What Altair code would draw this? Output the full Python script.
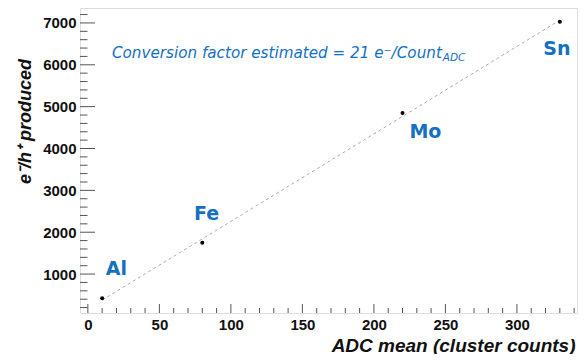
import altair as alt
import pandas as pd

# ---- data ----
elements = ["Al", "Fe", "Mo", "Sn"]
adc_mean = [10, 80, 220, 330]
eh_produced = [420, 1750, 4850, 7030]

# label anchor positions (data units)
label_x = [20, 83, 236, 328]
label_y = [1120, 2430, 4405, 6380]

x_major = [0, 50, 100, 150, 200, 250, 300]
x_minor = [v for v in range(0, 341, 10) if v % 50 != 0]
y_major = [1000, 2000, 3000, 4000, 5000, 6000, 7000]
y_minor = [v for v in range(200, 7201, 200) if v % 1000 != 0]

note_main = "Conversion factor estimated = 21 e\u207b/Count"
note_sub = "ADC"
note_x = [247.5]
note_y = [6286]

x_domain = [-5.5, 342]
y_domain = [70, 7357]

BLUE = "#1570c2"
TICK = "#555555"
W, H = 497, 305

pts = pd.DataFrame({"element": elements, "adc": adc_mean, "eh": eh_produced})
labs = pd.DataFrame({"element": elements, "adc": label_x, "eh": label_y})
xmaj = pd.DataFrame({"adc": x_major})
xmin = pd.DataFrame({"adc": x_minor})
ymaj = pd.DataFrame({"eh": y_major})
ymin = pd.DataFrame({"eh": y_minor})
note = pd.DataFrame({"adc": note_x, "eh": note_y, "main": [note_main], "sub": [note_sub]})

xs = alt.Scale(domain=x_domain, nice=False, zero=False)
ys = alt.Scale(domain=y_domain, nice=False, zero=False)

x_axis = alt.Axis(
    values=x_major, format="d", title="ADC mean (cluster counts)", ticks=False, domain=False, grid=False,
    labelFont="Liberation Sans", labelFontWeight="bold", labelFontSize=15, labelColor="#111111",
    labelPadding=4, titleFont="Liberation Sans", titleFontWeight="bold", titleFontStyle="italic",
    titleFontSize=19, titleColor="#111111", titleAnchor="end", titleAlign="right",
    titleX=495, titleY=38, titleBaseline="alphabetic",
)
y_axis = alt.Axis(
    values=y_major, format="d", title="e\u207b/h\u207a produced", ticks=False, domain=False, grid=False,
    labelFont="Liberation Sans", labelFontWeight="bold", labelFontSize=15, labelColor="#111111",
    labelPadding=4, titleFont="Liberation Sans", titleFontWeight="bold", titleFontStyle="italic",
    titleFontSize=18, titleColor="#111111", titleAngle=270, titleAlign="center",
    titleBaseline="middle", titleX=-55, titleY=113,
)

fit = alt.Chart(pts).transform_regression(
    "adc", "eh", extent=[10, 330]
).mark_line(color="#ababab", strokeDash=[3, 3], strokeWidth=1).encode(
    x=alt.X("adc:Q", scale=xs, axis=x_axis),
    y=alt.Y("eh:Q", scale=ys, axis=y_axis),
)

dots = alt.Chart(pts).mark_circle(color="black", size=16, opacity=1).encode(
    x=alt.X("adc:Q", scale=xs), y=alt.Y("eh:Q", scale=ys)
)

labels = alt.Chart(labs).mark_text(
    font="DejaVu Sans", fontWeight="bold", fontSize=19, color=BLUE, align="center", baseline="middle"
).encode(x=alt.X("adc:Q", scale=xs), y=alt.Y("eh:Q", scale=ys), text="element:N")

note_a = alt.Chart(note).mark_text(
    font="DejaVu Sans", fontStyle="italic", fontSize=15.2, color=BLUE, align="right", baseline="middle"
).encode(x=alt.X("adc:Q", scale=xs), y=alt.Y("eh:Q", scale=ys), text="main:N")
note_b = alt.Chart(note).mark_text(
    font="DejaVu Sans", fontStyle="italic", fontSize=10.5, color=BLUE, align="left", baseline="middle",
    dx=1, dy=5,
).encode(x=alt.X("adc:Q", scale=xs), y=alt.Y("eh:Q", scale=ys), text="sub:N")

def xticks(df, length):
    return alt.Chart(df).mark_rule(color=TICK, strokeWidth=1).encode(
        x=alt.X("adc:Q", scale=xs), y=alt.value(H), y2=alt.value(H - length)
    )

def yticks(df, length):
    return alt.Chart(df).mark_rule(color=TICK, strokeWidth=1).encode(
        y=alt.Y("eh:Q", scale=ys), x=alt.value(0), x2=alt.value(length)
    )

chart = alt.layer(
    fit, xticks(xmaj, 9), xticks(xmin, 5), yticks(ymaj, 15), yticks(ymin, 7.5),
    dots, labels, note_a, note_b,
).properties(
    width=W, height=H,
    autosize=alt.AutoSizeParams(type="none"),
    padding={"left": 72, "top": 0, "right": 2, "bottom": 41},
).configure_view(
    stroke="#6a6a6a", strokeWidth=1.5
).configure(background="white")

chart.save("out.html", embed_options={"renderer": "svg", "actions": False})
